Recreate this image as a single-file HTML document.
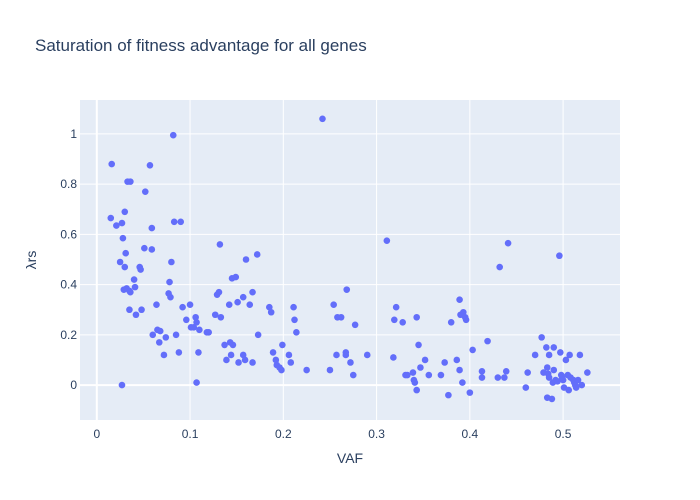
<!DOCTYPE html>
<html><head><meta charset="utf-8"><style>
body{margin:0;background:#fff;}
svg{display:block;font-family:"Liberation Sans",Arial,sans-serif;}
</style></head><body>
<svg id="chart" width="700" height="500">
<rect x="0" y="0" width="700" height="500" fill="#fff"/>
<rect x="80" y="100" width="540" height="320" fill="#e5ecf6"/>
<g id="grid"></g><g id="ticks"></g><g id="points"></g>
<text x="35" y="51" font-size="17" fill="#2a3f5f">Saturation of fitness advantage for all genes</text>
<text x="350" y="463" font-size="14" fill="#2a3f5f" text-anchor="middle">VAF</text>
<text x="36" y="260" font-size="14" fill="#2a3f5f" text-anchor="middle" transform="rotate(-90 36 260)">λrs</text>
</svg>
<script>
const xTicks=[0,0.1,0.2,0.3,0.4,0.5];
const xTickLabels=["0","0.1","0.2","0.3","0.4","0.5"];
const yTicks=[0,0.2,0.4,0.6,0.8,1];
const yTickLabels=["0","0.2","0.4","0.6","0.8","1"];
const vafValues=[0.016,0.015,0.021,0.025,0.028,0.030,0.027,0.033,0.036,0.027,0.030,0.031,0.029,0.032,0.035,0.036,0.035,0.040,0.041,0.042,0.046,0.047,0.048,0.052,0.051,0.057,0.059,0.059,0.060,0.064,0.065,0.067,0.068,0.072,0.074,0.077,0.078,0.079,0.080,0.082,0.083,0.085,0.088,0.090,0.092,0.096,0.100,0.101,0.104,0.106,0.107,0.107,0.109,0.110,0.118,0.120,0.127,0.129,0.131,0.132,0.133,0.137,0.139,0.142,0.143,0.144,0.146,0.145,0.149,0.151,0.152,0.157,0.157,0.159,0.160,0.164,0.167,0.167,0.172,0.173,0.185,0.187,0.189,0.192,0.193,0.196,0.199,0.198,0.206,0.208,0.211,0.212,0.214,0.225,0.242,0.250,0.254,0.257,0.258,0.262,0.267,0.267,0.268,0.272,0.275,0.277,0.290,0.311,0.318,0.319,0.321,0.328,0.331,0.333,0.339,0.340,0.341,0.343,0.343,0.345,0.347,0.352,0.356,0.369,0.373,0.377,0.380,0.386,0.389,0.389,0.390,0.392,0.393,0.395,0.396,0.400,0.403,0.413,0.413,0.419,0.430,0.432,0.437,0.439,0.441,0.460,0.462,0.470,0.477,0.479,0.482,0.483,0.484,0.485,0.485,0.483,0.488,0.490,0.489,0.490,0.492,0.494,0.496,0.497,0.498,0.499,0.500,0.501,0.503,0.505,0.506,0.507,0.508,0.511,0.512,0.513,0.514,0.516,0.518,0.520,0.526];
const lambdaValues=[0.88,0.665,0.635,0.49,0.585,0.69,0.645,0.81,0.81,0.0,0.47,0.525,0.38,0.385,0.375,0.37,0.30,0.42,0.39,0.28,0.47,0.46,0.30,0.77,0.545,0.875,0.625,0.54,0.20,0.32,0.22,0.17,0.215,0.12,0.19,0.365,0.41,0.35,0.49,0.995,0.65,0.20,0.13,0.65,0.31,0.26,0.32,0.23,0.23,0.27,0.25,0.01,0.13,0.22,0.21,0.21,0.28,0.36,0.37,0.56,0.27,0.16,0.10,0.32,0.17,0.12,0.16,0.425,0.43,0.33,0.09,0.35,0.12,0.10,0.50,0.32,0.37,0.09,0.52,0.20,0.31,0.29,0.13,0.10,0.08,0.07,0.16,0.06,0.12,0.09,0.31,0.26,0.21,0.06,1.06,0.06,0.32,0.12,0.27,0.27,0.13,0.12,0.38,0.09,0.04,0.24,0.12,0.575,0.11,0.26,0.31,0.25,0.04,0.04,0.05,0.02,0.01,-0.02,0.27,0.16,0.07,0.10,0.04,0.04,0.09,-0.04,0.25,0.10,0.34,0.06,0.28,0.01,0.29,0.27,0.26,-0.03,0.14,0.03,0.055,0.175,0.03,0.47,0.03,0.055,0.565,-0.01,0.05,0.12,0.19,0.05,0.15,0.07,0.045,0.12,0.03,-0.05,-0.055,0.15,0.01,0.06,0.02,0.015,0.515,0.13,0.04,0.03,0.02,-0.01,0.10,0.04,-0.02,0.12,0.03,0.02,0.01,0.0,-0.01,0.02,0.12,0.0,0.05];
const NS='http://www.w3.org/2000/svg';
const X0=80,X1=620,Y0=420,Y1=100,xMin=-0.018,xMax=0.561,yMin=-0.139,yMax=1.135;
function xs(v){return X0+(v-xMin)/(xMax-xMin)*(X1-X0);}
function ys(v){return Y0-(v-yMin)/(yMax-yMin)*(Y0-Y1);}
function mk(tag,attrs,parent){const e=document.createElementNS(NS,tag);for(const k in attrs)e.setAttribute(k,attrs[k]);parent.appendChild(e);return e;}
const grid=document.getElementById('grid'),ticks=document.getElementById('ticks'),pts=document.getElementById('points');
xTicks.forEach((t,i)=>{
  const l=mk('line',{x1:xs(t),x2:xs(t),y1:Y1,y2:Y0,stroke:'#fff','stroke-width':t===0?2:1},grid);
  
  
  const tx=mk('text',{x:xs(t),y:Y0+18,'font-size':12,fill:'#2a3f5f','text-anchor':'middle'},ticks);
  tx.textContent=xTickLabels[i];
  
  
});
yTicks.forEach((t,i)=>{
  const l=mk('line',{x1:X0,x2:X1,y1:ys(t),y2:ys(t),stroke:'#fff','stroke-width':t===0?2:1},grid);
  
  
  const tx=mk('text',{x:X0-3,y:ys(t)+4,'font-size':12,fill:'#2a3f5f','text-anchor':'end'},ticks);
  tx.textContent=yTickLabels[i];
  
  
});
vafValues.forEach((v,i)=>{
  const c=mk('circle',{cx:xs(v),cy:ys(lambdaValues[i]),r:3.3,fill:'#636efa'},pts);
  
  
});
</script>
</body></html>
